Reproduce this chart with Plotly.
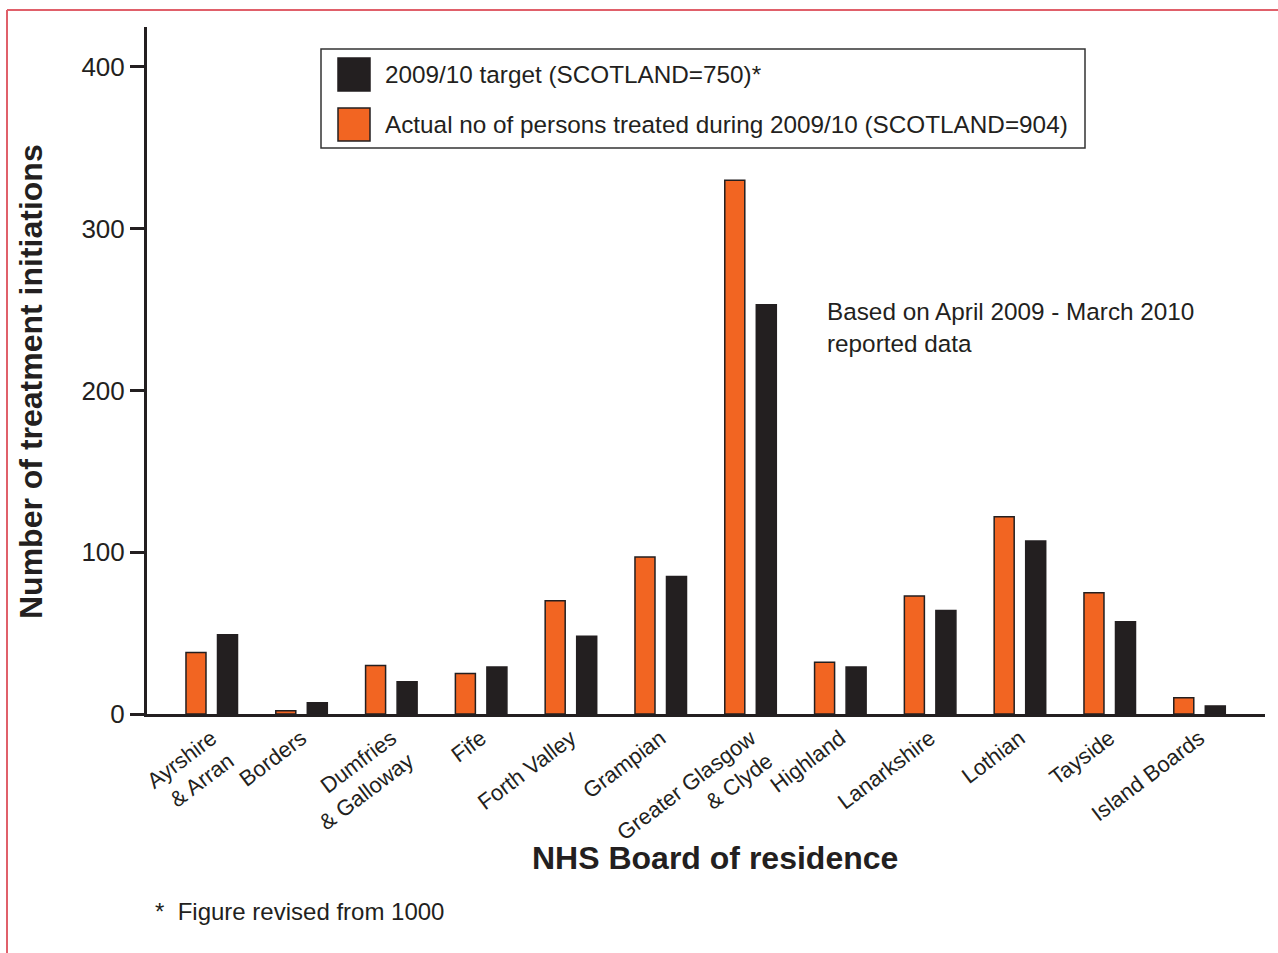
import plotly.graph_objects as go

# ---- data ----
boards = ["Ayrshire<br>& Arran", "Borders", "Dumfries<br>& Galloway", "Fife",
          "Forth Valley", "Grampian", "Greater Glasgow<br>& Clyde", "Highland",
          "Lanarkshire", "Lothian", "Tayside", "Island Boards"]
actual_2009_10 = [38, 2, 30, 25, 70, 97, 330, 32, 73, 122, 75, 10]
target_2009_10 = [49, 7, 20, 29, 48, 85, 253, 29, 64, 107, 57, 5]
y_ticks = [0, 100, 200, 300, 400]

target_name = "2009/10 target (SCOTLAND=750)*"
actual_name = "Actual no of persons treated during 2009/10 (SCOTLAND=904)"

# ---- style ----
ORANGE = "#F26522"
DARK = "#231F20"
FONT = "Liberation Sans, Arial, Helvetica, sans-serif"

W, H = 1278, 953
L, R, T, B = 147, 13, 27, 239
PW, PH = W - L - R, H - T - B


def px(x):
    return (x - L) / PW


def py(y):
    return (H - B - y) / PH


fig = go.Figure()
fig.add_trace(go.Bar(x=boards, y=actual_2009_10, name=actual_name,
                     marker=dict(color=ORANGE, line=dict(color=DARK, width=1.5)),
                     showlegend=False))
fig.add_trace(go.Bar(x=boards, y=target_2009_10, name=target_name,
                     marker=dict(color=DARK, line=dict(color=DARK, width=1.5)),
                     showlegend=False))

shapes = []
annotations = []

# legend box
shapes.append(dict(type="rect", xref="paper", yref="paper",
                   x0=px(321), x1=px(1085), y0=py(148), y1=py(49),
                   line=dict(color="#333333", width=1.5), fillcolor="white"))
for (y0, y1, col, label) in [(91, 58, DARK, target_name), (141, 108, ORANGE, actual_name)]:
    shapes.append(dict(type="rect", xref="paper", yref="paper",
                       x0=px(338), x1=px(370), y0=py(y0), y1=py(y1),
                       line=dict(color=DARK, width=1.5), fillcolor=col))
    annotations.append(dict(xref="paper", yref="paper", x=px(383), y=py((y0 + y1) / 2),
                            text=label, showarrow=False, xanchor="left", yanchor="middle",
                            font=dict(family=FONT, size=24.3, color=DARK)))

# red frame (page border)
shapes.append(dict(type="line", xref="paper", yref="paper",
                   x0=px(7), x1=px(1300), y0=py(10), y1=py(10),
                   line=dict(color="#E0606A", width=2)))
shapes.append(dict(type="line", xref="paper", yref="paper",
                   x0=px(7), x1=px(7), y0=py(10), y1=py(1000),
                   line=dict(color="#E0606A", width=2)))

# axis titles
annotations.append(dict(xref="paper", yref="paper", x=px(715), y=py(858),
                        text="<b>NHS Board of residence</b>", showarrow=False,
                        xanchor="center", yanchor="middle",
                        font=dict(family=FONT, size=32, color=DARK)))
annotations.append(dict(xref="paper", yref="paper", x=px(31), y=py(382),
                        text="<b>Number of treatment initiations</b>", showarrow=False,
                        textangle=-90, xanchor="center", yanchor="middle",
                        font=dict(family=FONT, size=32, color=DARK)))

# note
annotations.append(dict(xref="paper", yref="paper", x=px(825), y=py(328),
                        text="Based on April 2009 - March 2010<br>reported data",
                        showarrow=False, xanchor="left", yanchor="middle", align="left",
                        font=dict(family=FONT, size=24.3, color=DARK)))
# footnote
annotations.append(dict(xref="paper", yref="paper", x=px(153), y=py(911),
                        text="*  Figure revised from 1000",
                        showarrow=False, xanchor="left", yanchor="middle", align="left",
                        font=dict(family=FONT, size=24, color=DARK)))

fig.update_layout(
    width=W, height=H,
    margin=dict(l=L, r=R, t=T, b=B, autoexpand=False),
    paper_bgcolor="white", plot_bgcolor="white",
    barmode="group", bargap=0.298, bargroupgap=0.365,
    font=dict(family=FONT, color=DARK),
    shapes=shapes, annotations=annotations,
    xaxis=dict(
        type="category", range=[-0.721, 11.729],
        showline=True, linecolor=DARK, linewidth=3,
        ticks="", tickangle=-37, showgrid=False, zeroline=False,
        tickfont=dict(family=FONT, size=22, color=DARK),
        automargin=False,
    ),
    yaxis=dict(
        range=[0, 424.7], tickvals=y_ticks,
        showline=True, linecolor=DARK, linewidth=3,
        ticks="outside", ticklen=14, tickwidth=3, tickcolor=DARK,
        showgrid=False, zeroline=False,
        tickfont=dict(family=FONT, size=26, color=DARK),
        automargin=False,
    ),
)

fig.write_html("out.html", config={"displayModeBar": False},
               post_script="document.body.style.margin='0';")
